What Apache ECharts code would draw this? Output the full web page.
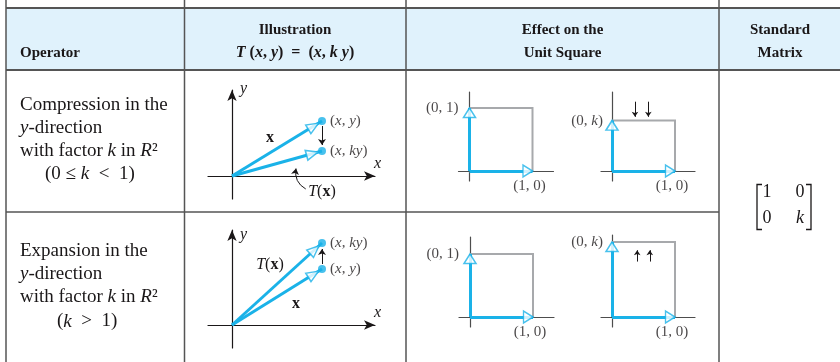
<!DOCTYPE html>
<html>
<head>
<meta charset="utf-8">
<script src="https://cdn.jsdelivr.net/npm/echarts@6/dist/echarts.min.js"></script>
<style>html,body{margin:0;padding:0;background:#fff}#chart{width:840px;height:362px}</style>
</head>
<body>
<div id="chart"></div>
<script>
// table text
const headers = [['Operator'], ['Illustration', '{bi|T} ({bi|x}, {bi|y})  =  ({bi|x}, {bi|k y})'], ['Effect on the', 'Unit Square'], ['Standard', 'Matrix']];
const compressionText = ['Compression in the', '{i|y}-direction', 'with factor {i|k} in {i|R}²', '(0 ≤ {i|k}  <  1)'];
const expansionText = ['Expansion in the', '{i|y}-direction', 'with factor {i|k} in {i|R}²', '({i|k}  >  1)'];
const matrixRows = [['1', '0'], ['0', 'k']];

// illustration vectors x and T(x)
const compX = [3.6, 2.2];
const compTx = [3.6, 1.0];
const expX = [3.6, 2.24];
const expTx = [3.6, 3.28];
const compLeader = [[2.56, 0.3], [2.95, -0.52]];

// unit square panels: height reached by the image of e2
const squareHeights = [1, 0.8, 1, 1.19];
const squareArrowX = [[0.365, 0.576], [0.40, 0.60]];
const squareArrowY = [[1.1, 0.86], [0.88, 1.06]];

const ink = '#1a1718';
const blue = '#1ab2e8';
const gray = '#a7a9ac';
const serif = 'Liberation Serif, Times New Roman, serif';
const U1 = 25, U2 = 63;

function panel(ox, oy, unit, negX, posX, posY, negY) {
  return {
    grid: {left: ox - negX, top: oy - posY, width: negX + posX, height: posY + negY, outerBoundsMode: 'none'},
    x: [-negX / unit, posX / unit],
    y: [-negY / unit, posY / unit]
  };
}
const panels = [
  panel(232, 176, U1, 24, 143, 86, 23),
  panel(232, 325, U1, 24, 143, 95, 23),
  panel(469.5, 171, U2, 11, 84, 79, 10),
  panel(612, 171, U2, 11, 83, 79, 10),
  panel(470, 317, U2, 11, 84, 80, 10),
  panel(612, 317, U2, 11, 83, 82, 10)
];

function headAt(tip, unit, back) {
  const len = Math.hypot(tip[0], tip[1]);
  const f = 1 - back / unit / len;
  return [tip[0] * f, tip[1] * f];
}
function headRot(tip) {
  return Math.atan2(tip[1], tip[0]) * 180 / Math.PI - 90;
}
function on(g) {
  return {coordinateSystem: 'cartesian2d', xAxisIndex: g, yAxisIndex: g, silent: true, animation: false};
}
const labelFont = {fontFamily: serif, fontSize: 15, color: ink, rich: {i: {fontStyle: 'italic'}}};
const hollow = {color: '#fff', borderColor: blue, borderWidth: 1.5};

const series = [];

[
  {g: 0, x: compX, tx: compTx, labels: ['({i|x}, {i|y})', '({i|x}, {i|ky})'], leader: compLeader},
  {g: 1, x: expX, tx: expTx, labels: ['({i|x}, {i|y})', '({i|x}, {i|ky})'], leader: null}
].forEach(d => {
  const vecs = [d.x, d.tx];
  series.push({type: 'lines', ...on(d.g), lineStyle: {color: blue, width: 3, opacity: 1},
    data: vecs.map(v => ({coords: [[0, 0], v]}))});
  series.push({type: 'scatter', ...on(d.g), symbol: 'triangle', symbolSize: [10, 12], itemStyle: hollow,
    data: vecs.map(v => ({value: headAt(v, U1, 10), symbolRotate: headRot(v)}))});
  series.push({type: 'scatter', ...on(d.g), symbol: 'circle', symbolSize: 8, itemStyle: {color: blue},
    label: {show: true, position: 'right', distance: 4, ...labelFont},
    data: vecs.map((v, k) => ({value: v, label: {formatter: d.labels[k]}}))});
  const dir = Math.sign(d.tx[1] - d.x[1]);
  series.push({type: 'lines', ...on(d.g), symbol: ['none', 'arrow'], symbolSize: 6,
    lineStyle: {color: ink, width: 1, opacity: 1},
    data: [{coords: [[d.x[0], d.x[1] + dir * 5 / U1], [d.tx[0], d.tx[1] - dir * 6 / U1]]}]});
  if (d.leader) {
    series.push({type: 'lines', ...on(d.g), symbol: ['arrow', 'none'], symbolSize: 6,
      lineStyle: {color: ink, width: 1, opacity: 1, curveness: -0.35},
      data: [{coords: d.leader}]});
  }
});

squareHeights.forEach((h, j) => {
  const g = j + 2;
  series.push({type: 'lines', ...on(g), polyline: true, lineStyle: {color: gray, width: 2, opacity: 1},
    data: [{coords: [[0, h], [1, h], [1, 0]]}]});
  series.push({type: 'lines', ...on(g), lineStyle: {color: blue, width: 3, opacity: 1},
    data: [{coords: [[0, 0], [1, 0]]}, {coords: [[0, 0], [0, h]]}]});
  series.push({type: 'scatter', ...on(g), symbol: 'triangle', symbolSize: [12, 9.5], itemStyle: hollow,
    data: [{value: [1 - 4.75 / U2, 0], symbolRotate: -90}, {value: [0, h - 4.75 / U2], symbolRotate: 0}]});
  series.push({type: 'scatter', ...on(g), symbolSize: 0,
    label: {show: true, ...labelFont},
    data: [
      {value: [0, h], label: {position: 'left', distance: j % 2 ? 9 : 11, formatter: j % 2 ? '(0, {i|k})' : '(0, 1)'}},
      {value: [1, 0], label: {position: 'bottom', distance: 8, offset: [-3, 0], formatter: '(1, 0)'}}
    ]});
  if (j % 2) {
    const r = (j - 1) / 2;
    series.push({type: 'lines', ...on(g), symbol: ['none', 'arrow'], symbolSize: 5,
      lineStyle: {color: ink, width: 1, opacity: 1},
      data: squareArrowX[r].map(x => ({coords: [[x, squareArrowY[r][0]], [x, squareArrowY[r][1]]]}))});
  }
});

const axisCommon = {type: 'value', axisTick: {show: false}, axisLabel: {show: false}, splitLine: {show: false}};
const xAxis = panels.map((p, i) => ({
  ...axisCommon, gridIndex: i, min: p.x[0], max: p.x[1],
  axisLine: {onZero: true, lineStyle: {color: i < 2 ? ink : '#4d4d4d', width: 1.2},
    symbol: i < 2 ? ['none', 'arrow'] : 'none', symbolSize: [7, 11]},
  name: i < 2 ? 'x' : '', nameLocation: 'end', nameGap: -1,
  nameTextStyle: {fontFamily: serif, fontSize: 16, fontStyle: 'italic', color: ink, verticalAlign: 'bottom', padding: [0, 0, 4, 0]}
}));
const yAxis = panels.map((p, i) => ({
  ...axisCommon, gridIndex: i, min: p.y[0], max: p.y[1],
  axisLine: {onZero: true, lineStyle: {color: i < 2 ? ink : '#4d4d4d', width: 1.2},
    symbol: i < 2 ? ['none', 'arrow'] : 'none', symbolSize: [7, 11]},
  name: i < 2 ? 'y' : '', nameLocation: 'end', nameGap: i === 0 ? 1 : -5,
  nameTextStyle: {fontFamily: serif, fontSize: 16, fontStyle: 'italic', color: ink, align: 'left', verticalAlign: 'middle', padding: [0, 0, 0, 8]}
}));

// table layout
function txt(x, y, text, opt) {
  return {type: 'text', x: x, y: y, silent: true, style: Object.assign({
    text: text, fontFamily: serif, fontSize: 19, fill: ink, align: 'left', verticalAlign: 'middle'
  }, opt || {})};
}
function hline(x1, x2, y, w) {
  return {type: 'line', silent: true, shape: {x1: x1, y1: y, x2: x2, y2: y}, style: {stroke: '#555', lineWidth: w}};
}
function vline(x, y1, y2) {
  return {type: 'line', silent: true, shape: {x1: x, y1: y1, x2: x, y2: y2}, style: {stroke: '#555', lineWidth: 1.5}};
}
const bodyRich = {
  i: {fontFamily: serif, fontSize: 19, fontStyle: 'italic', fill: ink}
};
const headRich = {
  bi: {fontFamily: serif, fontSize: 16, fontWeight: 'bold', fontStyle: 'italic', fill: ink}
};
const headStyle = {fontSize: 15, fontWeight: 'bold', align: 'center', rich: headRich};
const headX = [null, 295, 562.5, 780];
const graphic = [
  {type: 'rect', silent: true, z: -10, shape: {x: 6, y: 8, width: 834, height: 62}, style: {fill: '#e0f2fc'}},
  hline(6, 840, 8, 2), hline(6, 840, 70, 2), hline(6, 719, 212, 1.3),
  vline(6, 0, 362), vline(184.5, 0, 362), vline(406, 0, 362), vline(719, 0, 362),
  txt(20, 53, headers[0][0], {fontSize: 15, fontWeight: 'bold'})
];
[1, 2, 3].forEach(c => {
  graphic.push(txt(headX[c], 30, headers[c][0], headStyle));
  graphic.push(txt(headX[c], 53, headers[c][1], c === 1 ? Object.assign({}, headStyle, {fontSize: 16}) : headStyle));
});
const rowLines = [
  {text: compressionText, ys: [105, 128, 151, 174], x: [20, 20, 20, 45]},
  {text: expansionText, ys: [251.5, 274, 297, 321.5], x: [20, 20, 20, 57]}
];
rowLines.forEach(r => r.text.forEach((t, k) => graphic.push(txt(r.x[k], r.ys[k], t, {rich: bodyRich}))));

// vector annotations
const noteBold = {fontSize: 16, fontWeight: 'bold', align: 'center'};
const tRich = {
  bx: {fontFamily: serif, fontSize: 16, fontWeight: 'bold', fill: ink},
  it: {fontFamily: serif, fontSize: 16, fontStyle: 'italic', fill: ink}
};
graphic.push(txt(270, 138, 'x', noteBold));
graphic.push(txt(322, 192, '{it|T}({bx|x})', {fontSize: 16, align: 'center', rich: tRich}));
graphic.push(txt(270, 265, '{it|T}({bx|x})', {fontSize: 16, align: 'center', rich: tRich}));
graphic.push(txt(296, 304, 'x', noteBold));

// standard matrix
const bracket = (pts) => ({type: 'polyline', silent: true, shape: {points: pts}, style: {stroke: ink, lineWidth: 1.3, fill: null}});
graphic.push(bracket([[762, 184.5], [757, 184.5], [757, 229.5], [762, 229.5]]));
graphic.push(bracket([[806, 184.5], [811, 184.5], [811, 229.5], [806, 229.5]]));
const matX = [767, 800], matY = [192, 218];
matrixRows.forEach((row, r) => row.forEach((v, c) => {
  graphic.push(txt(matX[c], matY[r], v, {fontSize: 18, align: 'center', fontStyle: /[a-z]/.test(v) ? 'italic' : 'normal'}));
}));

const chart = echarts.init(document.getElementById('chart'), null, {renderer: 'canvas'});
chart.setOption({
  animation: false,
  grid: panels.map(p => p.grid),
  xAxis: xAxis,
  yAxis: yAxis,
  series: series,
  graphic: graphic
});
</script>
</body>
</html>
